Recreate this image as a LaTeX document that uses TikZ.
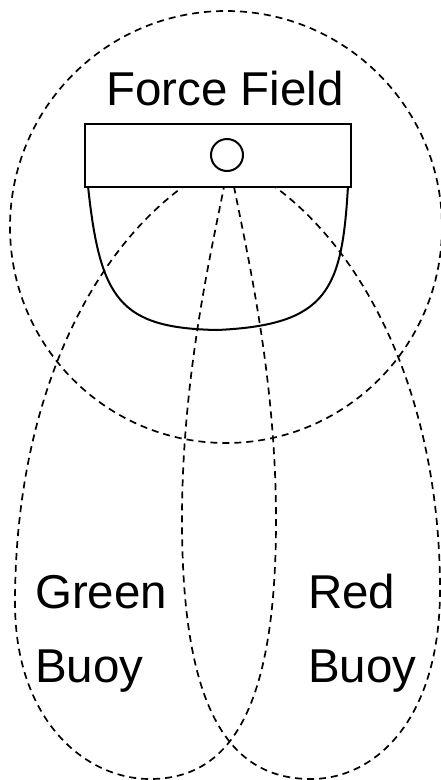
\documentclass[tikz,border=0pt]{standalone}
\usepackage{fontspec}
\setmainfont{Liberation Sans}
\begin{document}
\begin{tikzpicture}[x=1pt,y=-1pt,
  field/.style={draw=black,line width=1.7pt,dash pattern=on 7pt off 5pt},
  solidline/.style={draw=black,line width=2pt},
  lbl/.style={inner sep=0pt,anchor=base west,font=\fontsize{47.5}{74}\selectfont},
  title/.style={inner sep=0pt,anchor=base,font=\fontsize{47.5}{74}\selectfont}]
\useasboundingbox (0,0) rectangle (441,780);
% big force field circle
\coordinate (fc) at (226,227);
\draw[field] (fc) circle[radius=216];
% lobes
\coordinate (apex) at (229,160);
\draw[field] (apex) .. controls (115,210) and (15,370) .. (15,603)
  .. controls (15,720) and (85,779) .. (150,779)
  .. controls (235,779) and (276,700) .. (276,520)
  .. controls (276,360) and (240,225) .. (apex) -- cycle;
\draw[field] (apex) .. controls (343,210) and (440,370) .. (440,590)
  .. controls (440,720) and (375,779) .. (311,779)
  .. controls (224,779) and (182,700) .. (182,520)
  .. controls (182,360) and (218,225) .. (apex) -- cycle;
% hull
\coordinate (hl) at (88,186);
\coordinate (hb) at (217,330);
\coordinate (hr) at (348,186);
\draw[solidline] (hl) .. controls (100,300) and (120,328) .. (hb)
  .. controls (328,325) and (342,290) .. (hr);
% box
\node[solidline,fill=white,rectangle,minimum width=266pt,minimum height=63pt,inner sep=0pt,anchor=north west] (box) at (84,123) {};
\node[solidline,circle,minimum size=32pt,inner sep=0pt] (sensor) at (227,155) {};
% texts
\node[title] (ff) at (225,105) {Force Field};
\node[lbl] (g1) at (35,608) {Green};
\node[lbl] (g2) at (35,682) {Buoy};
\node[lbl] (r1) at (308,608) {Red};
\node[lbl] (r2) at (308,682) {Buoy};
\end{tikzpicture}
\end{document}
